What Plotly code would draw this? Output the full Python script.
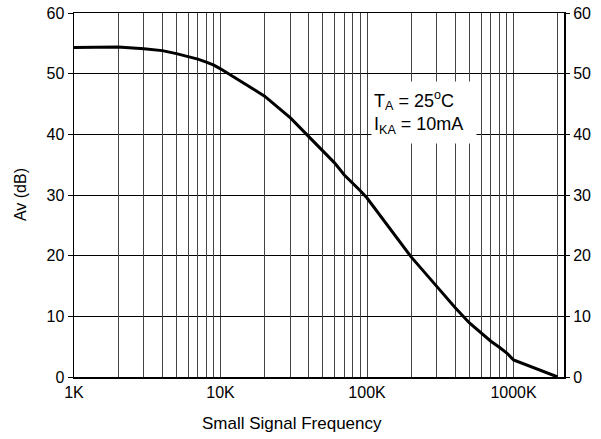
import plotly.graph_objects as go
import numpy as np

# Data (frequency in kHz, gain in dB)
freq_khz = [1, 1.5, 2, 3, 4, 5, 6, 7, 8, 9, 10, 14, 20, 30, 40, 50, 60, 70, 80, 90,
            100, 150, 200, 300, 400, 500, 600, 700, 800, 900, 1000, 2000]
gain_db = [54.3, 54.4, 54.4, 54.1, 53.8, 53.3, 52.8, 52.4, 51.9, 51.4, 50.8, 48.6,
           46.3, 42.7, 39.7, 37.2, 35.3, 33.3, 32.0, 30.7, 29.5, 23.9, 19.8, 14.9,
           11.4, 8.9, 7.25, 5.9, 4.9, 3.95, 2.8, 0.0]

decade_vals = [1, 10, 100, 1000]
decade_labels = ["1K", "10K", "100K", "1000K"]
y_ticks = [0, 10, 20, 30, 40, 50, 60]
minor_multipliers = [2, 3, 4, 5, 6, 7, 8, 9]
extra_grid = [2000]

grid_vals = [d * m for d in decade_vals for m in minor_multipliers] + extra_grid

FONT = "Liberation Sans, Arial, sans-serif"
XRANGE = [0, np.log10(2210)]

fig = go.Figure()
fig.add_trace(go.Scatter(x=freq_khz, y=gain_db, mode="lines",
                         line=dict(color="black", width=3), hoverinfo="skip",
                         showlegend=False))
# helper trace to activate the secondary (grid / right) axes
fig.add_trace(go.Scatter(x=freq_khz, y=gain_db, mode="lines", xaxis="x2", yaxis="y2",
                         line=dict(color="rgba(0,0,0,0)", width=0), hoverinfo="skip",
                         showlegend=False))

fig.update_layout(
    template="none",
    width=601, height=439,
    margin=dict(l=74, r=37, t=13, b=62, autoexpand=False),
    paper_bgcolor="white", plot_bgcolor="white",
    font=dict(family=FONT, size=16, color="black"),
    xaxis=dict(type="log", range=XRANGE, automargin=False,
               tickvals=decade_vals, ticktext=decade_labels,
               showgrid=True, gridcolor="#444", gridwidth=1,
               ticks="", showline=True, linecolor="black", linewidth=1.5,
               mirror=True, zeroline=False),
    xaxis2=dict(type="log", range=XRANGE, overlaying="x", side="bottom",
                automargin=False,
                tickvals=grid_vals, showticklabels=False, ticks="",
                showgrid=True, gridcolor="#444", gridwidth=1,
                showline=False, zeroline=False),
    yaxis=dict(range=[0, 60], tickvals=y_ticks, showgrid=True, gridcolor="black",
               automargin=False,
               gridwidth=1, ticks="outside", ticklen=5, tickcolor="black",
               showline=True, linecolor="black", linewidth=1.5, mirror=True,
               zeroline=False),
    yaxis2=dict(range=[0, 60], tickvals=y_ticks, overlaying="y", side="right",
                automargin=False,
                showgrid=False, ticks="outside", ticklen=5, tickcolor="black",
                showline=False, zeroline=False),
)

# x-axis title
fig.add_annotation(xref="paper", yref="paper", x=0.445, y=-0.129,
                   text="Small Signal Frequency", showarrow=False,
                   font=dict(size=17, family=FONT, color="black"),
                   xanchor="center", yanchor="middle")
# y-axis title
fig.add_annotation(xref="paper", yref="paper", x=-0.110, y=0.5,
                   text="Av (dB)", showarrow=False, textangle=-90,
                   font=dict(size=16, family=FONT, color="black"),
                   xanchor="center", yanchor="middle")

fig.add_annotation(
    xref="paper", yref="paper", x=0.714, y=0.727,
    text="T<sub>A</sub> = 25<sup>o</sup>C<br>I<sub>KA</sub> = 10mA",
    showarrow=False, align="left", bgcolor="white",
    width=100, height=57, borderpad=2,
    font=dict(size=18, family=FONT, color="black"),
    xanchor="center", yanchor="middle",
)

fig.write_html(
    "out.html",
    config={"displayModeBar": False, "staticPlot": True},
    post_script=("document.documentElement.style.margin='0px';"
                 "document.documentElement.style.padding='0px';"
                 "document.documentElement.style.overflow='hidden';"
                 "document.body.style.margin='0px';"
                 "document.body.style.padding='0px';"
                 "document.body.style.overflow='hidden';"),
)
